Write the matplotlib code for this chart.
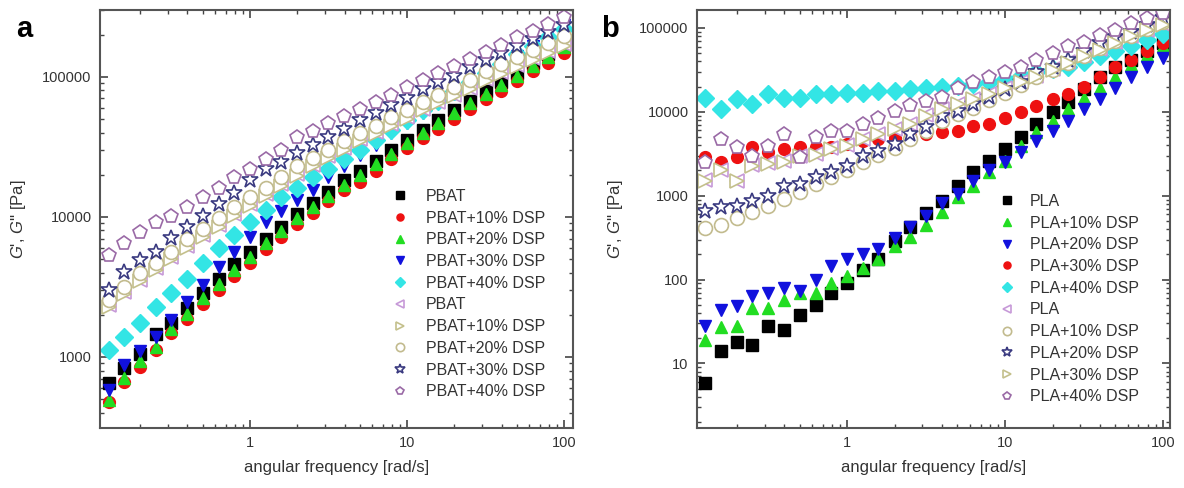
import matplotlib
matplotlib.use("Agg")
import matplotlib.pyplot as plt
from matplotlib.ticker import LogLocator, FixedLocator, FixedFormatter, NullFormatter

plt.rcParams["font.family"] = ["Liberation Sans", "DejaVu Sans"]
plt.rcParams["mathtext.fontset"] = "custom"
plt.rcParams["mathtext.it"] = "Liberation Sans:italic"
plt.rcParams["mathtext.rm"] = "Liberation Sans"

# angular frequency sweep [rad/s]
freq = [0.126, 0.158, 0.2, 0.251, 0.316, 0.398, 0.501, 0.631, 0.794, 1.0,
        1.26, 1.58, 2.0, 2.51, 3.16, 3.98, 5.01, 6.31, 7.94, 10.0,
        12.6, 15.8, 20.0, 25.1, 31.6, 39.8, 50.1, 63.1, 79.4, 100.0]

# ---- PBAT blends [Pa] ----
pbat_fill = [650, 830, 1050, 1450, 1740, 2240, 2880, 3630, 4570, 5620, 6920, 8510, 10500, 12600, 15100,
             18200, 21400, 25100, 30200, 35500, 41700, 49000, 57500, 67600, 79400, 91200, 107000, 126000, 145000, 170000]
pbat10_fill = [480, 660, 850, 1120, 1480, 1860, 2400, 3020, 3800, 4680, 5890, 7240, 8910, 10700, 12900,
               15500, 17800, 21400, 25700, 30900, 36300, 42700, 50100, 58900, 69200, 79400, 93300, 110000, 126000, 148000]
pbat20_fill = [490, 710, 930, 1180, 1590, 2040, 2630, 3310, 4170, 5130, 6460, 7940, 9770, 11700, 14100,
               17000, 20000, 24000, 28200, 33900, 39800, 46800, 55000, 64600, 75900, 87100, 102000, 120000, 138000, 162000]
pbat30_fill = [580, 870, 1100, 1380, 1820, 2460, 3240, 4370, 5620, 7240, 9120, 11000, 13200, 15500, 19100,
               22900, 27500, 32400, 39800, 46800, 55000, 64600, 75900, 89100, 105000, 120000, 141000, 166000, 200000, 234000]
pbat40_fill = [1120, 1380, 1740, 2290, 2880, 3630, 4680, 6030, 7410, 9120, 11200, 13800, 16200, 19100, 21900,
               25700, 30200, 35500, 41700, 49000, 57500, 67600, 79400, 91200, 107000, 123000, 145000, 166000, 191000, 219000]
pbat_open = [2360, 2900, 3570, 4300, 5160, 6210, 7460, 8770, 10500, 12400, 14500, 17100, 20100, 23600, 27100,
             31100, 35700, 40100, 46000, 51600, 59200, 66500, 74600, 83700, 96100, 108000, 121000, 136000, 152000, 171000]
pbat10_open = [2290, 2820, 3470, 4170, 5010, 6030, 7240, 8510, 10200, 12000, 14100, 16600, 19500, 22900, 26300,
               30200, 34700, 38900, 44700, 50100, 57500, 64600, 72400, 81300, 93300, 105000, 117000, 132000, 148000, 166000]
pbat20_open = [2570, 3160, 3980, 4680, 5620, 6920, 8130, 9770, 11700, 13800, 16200, 19100, 22900, 26300, 30200,
               34700, 39800, 44700, 51300, 57500, 66100, 74100, 85100, 95500, 110000, 123000, 138000, 155000, 174000, 195000]
pbat30_open = [3020, 4070, 4900, 5620, 7080, 8510, 10200, 12300, 14800, 18200, 21900, 24500, 28800, 32400, 37200,
               42700, 49000, 55000, 63100, 70800, 81300, 91200, 102000, 117000, 132000, 148000, 166000, 186000, 209000, 234000]
pbat40_open = [5370, 6460, 7760, 9120, 10200, 11700, 13800, 16200, 19100, 21900, 25700, 30200, 37200, 40700, 46800,
               52500, 58900, 66100, 74100, 85100, 95500, 107000, 120000, 135000, 151000, 170000, 191000, 214000, 240000, 269000]

# ---- PLA blends [Pa] ----
pla_fill = [5.8, 14.1, 17.8, 16.6, 28.2, 25.1, 38.0, 50.1, 69.2, 91.2, 129, 178, 288, 427, 617,
            871, 1320, 1910, 2570, 3630, 5010, 7080, 10000, 13200, 18600, 25700, 33900, 41700, 52500, 66100]
pla10_fill = [19.1, 26.9, 28.2, 45.7, 45.7, 57.5, 69.2, 69.2, 91.2, 110, 138, 178, 251, 324, 447,
              646, 977, 1320, 1910, 2570, 3890, 5750, 7760, 10700, 14800, 19500, 26300, 36300, 47900, 60300]
pla20_fill = [28.2, 43.7, 49.0, 63.1, 69.2, 79.4, 72.4, 100, 145, 178, 204, 234, 309, 427, 575,
              813, 1050, 1480, 2000, 2510, 3310, 4470, 5890, 7760, 10700, 14100, 19500, 26300, 34700, 43700]
pla30_fill = [2880, 2510, 2880, 3800, 3310, 3630, 3800, 3800, 3800, 4170, 4470, 4680, 4900, 5130, 5370,
              5750, 5890, 6760, 7080, 8510, 10000, 11700, 14100, 16200, 20000, 25700, 33900, 41700, 52500, 66100]
pla40_fill = [14800, 10700, 14100, 12300, 16200, 14500, 14500, 16200, 16200, 16600, 16600, 17800, 17800, 18600, 19100,
              20000, 20400, 21400, 22900, 24500, 26900, 29500, 32400, 34700, 39800, 45700, 52500, 61700, 72400, 85100]
pla_open = [1540, 2040, 1510, 2340, 2450, 2560, 3010, 3150, 3700, 3970, 4770, 5480, 6290, 7220, 9090,
            10900, 12500, 14400, 16500, 19500, 22800, 26800, 32200, 38800, 46600, 56100, 67400, 81000, 95200, 112000]
pla10_open = [407, 447, 537, 646, 759, 912, 1120, 1380, 1660, 2000, 2510, 3020, 3720, 4680, 5890,
              7760, 9330, 11200, 13800, 17000, 20900, 26300, 31600, 38000, 46800, 57500, 69200, 81300, 97700, 117000]
pla20_open = [661, 741, 759, 871, 1000, 1290, 1380, 1660, 1910, 2290, 2950, 3390, 4170, 5370, 6610,
              8910, 10200, 12300, 15100, 18600, 22900, 29500, 34700, 41700, 52500, 66100, 77600, 89100, 110000, 132000]
pla30_open = [1510, 2000, 1480, 2290, 2400, 2510, 2950, 3090, 3630, 3890, 4680, 5370, 6170, 7080, 8910,
              10700, 12300, 14100, 16200, 19100, 22400, 26300, 31600, 38000, 45700, 55000, 66100, 79400, 93300, 110000]
pla40_open = [2510, 4680, 3800, 2950, 3890, 5370, 2880, 5010, 5890, 5890, 7080, 8510, 10200, 12000, 13500,
              15100, 19500, 22400, 25700, 30200, 34700, 41700, 50100, 60300, 67600, 83200, 95500, 115000, 132000, 151000]

# (marker, colour) per series, in legend order
fill_pbat = [("s", "#000000"), ("o", "#ee1111"), ("^", "#22dd22"), ("v", "#1111dd"), ("D", "#33e5e5")]
fill_pla = [("s", "#000000"), ("^", "#22dd22"), ("v", "#1111dd"), ("o", "#ee1111"), ("D", "#33e5e5")]
open_pbat = [("<", "#c79ad8"), (">", "#c4c08c"), ("o", "#c2bb8e"), ("*", "#3a3a80"), ("p", "#9a6aa6")]
open_pla = [("<", "#c79ad8"), ("o", "#c2bb8e"), ("*", "#3a3a80"), (">", "#c4c08c"), ("p", "#9a6aa6")]

labels_pbat = ["PBAT", "PBAT+10% DSP", "PBAT+20% DSP", "PBAT+30% DSP", "PBAT+40% DSP"]
labels_pla = ["PLA", "PLA+10% DSP", "PLA+20% DSP", "PLA+30% DSP", "PLA+40% DSP"]

fig = plt.figure(figsize=(11.84, 4.88), dpi=100)
ax_a = fig.add_axes([0.0845, 0.123, 0.3995, 0.8566])
ax_b = fig.add_axes([0.5887, 0.123, 0.3995, 0.8566])


def draw(ax, fills, opens, fstyle, ostyle, labels):
    for y, (m, c), lab in zip(fills, fstyle, labels):
        ms = 9 if m == "D" else 8.5
        ax.plot(freq, y, ls="none", marker=m, ms=ms, mfc=c, mec=c, label=lab)
    for y, (m, c), lab in zip(opens, ostyle, labels):
        ms = 12 if m == "*" else 10
        ax.plot(freq, y, ls="none", marker=m, ms=ms, mfc="white", mec=c, mew=1.2, label=lab)


draw(ax_a, [pbat_fill, pbat10_fill, pbat20_fill, pbat30_fill, pbat40_fill],
     [pbat_open, pbat10_open, pbat20_open, pbat30_open, pbat40_open], fill_pbat, open_pbat, labels_pbat)
draw(ax_b, [pla_fill, pla10_fill, pla20_fill, pla30_fill, pla40_fill],
     [pla_open, pla10_open, pla20_open, pla30_open, pla40_open], fill_pla, open_pla, labels_pla)

ax_a.set_ylim(311, 3.0e5)
ax_a.set_xlim(0.111, 114)
ax_b.set_ylim(1.7, 1.64e5)
ax_b.set_xlim(0.112, 111)

yt_a = [1000, 10000, 100000]
yt_b = [10, 100, 1000, 10000, 100000]
xt = [1, 10, 100]

for ax, yt, leg_xy, pad in ((ax_a, yt_a, (0.614, 0.572), 1.0), (ax_b, yt_b, (0.635, 0.560), 0.85)):
    ax.set_xscale("log")
    ax.set_yscale("log")
    ax.xaxis.set_major_locator(FixedLocator(xt))
    ax.xaxis.set_major_formatter(FixedFormatter([str(v) for v in xt]))
    ax.yaxis.set_major_locator(FixedLocator(yt))
    ax.yaxis.set_major_formatter(FixedFormatter([str(v) for v in yt]))
    ax.xaxis.set_minor_locator(LogLocator(base=10, subs=range(2, 10), numticks=20))
    ax.yaxis.set_minor_locator(LogLocator(base=10, subs=range(2, 10), numticks=20))
    ax.xaxis.set_minor_formatter(NullFormatter())
    ax.yaxis.set_minor_formatter(NullFormatter())
    ax.tick_params(which="both", direction="in", top=True, right=True, colors="#444444",
                   labelsize=10.5, labelcolor="#333333")
    ax.tick_params(which="major", length=6, width=1.2, pad=6)
    ax.tick_params(which="minor", length=3, width=1.0)
    for s in ax.spines.values():
        s.set_color("#555555")
        s.set_linewidth(1.5)
    ax.set_xlabel("angular frequency [rad/s]", fontsize=12, color="#333333", labelpad=7)
    ax.set_ylabel("$G$', $G$'' [Pa]", fontsize=12, color="#333333", labelpad=10)
    ax.legend(loc="upper left", bbox_to_anchor=leg_xy, frameon=False, fontsize=11.5,
              borderpad=0, borderaxespad=0, labelspacing=0.42, handletextpad=pad,
              handlelength=1.2, markerscale=0.6, labelcolor="#333333")

fig.text(0.014, 0.925, "a", fontsize=21, fontweight="bold")
fig.text(0.508, 0.925, "b", fontsize=21, fontweight="bold")

fig.savefig("out.png", dpi=100)
